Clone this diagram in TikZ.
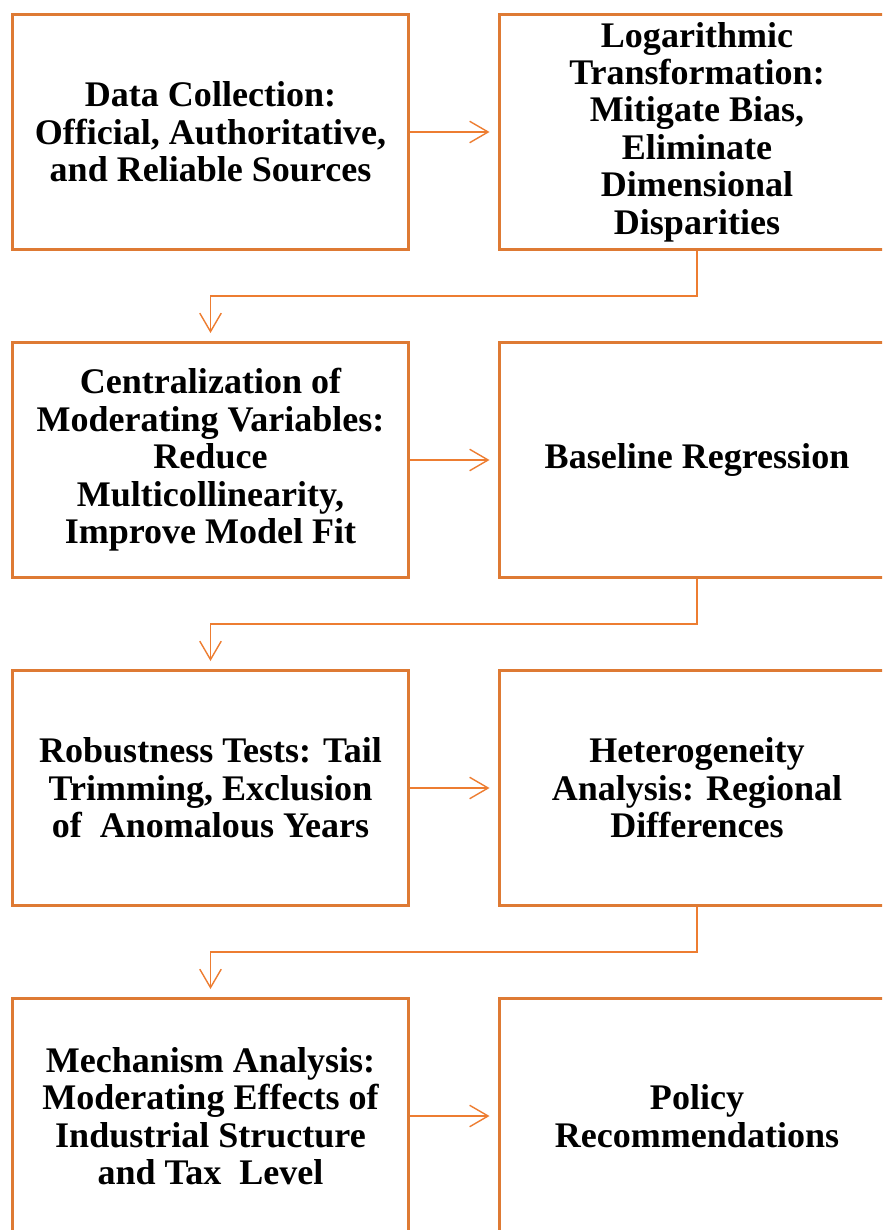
\documentclass[tikz,border=0pt]{standalone}
\usepackage{fontspec}
\setmainfont{Liberation Serif}
\usetikzlibrary{arrows.meta}
\definecolor{boxorange}{RGB}{222,122,52}
\definecolor{lineorange}{RGB}{237,125,49}

\begin{document}
\begin{tikzpicture}[
    every node/.style={font=\fontsize{20.5}{21.3}\selectfont\bfseries},
    stage/.style={draw=boxorange, line width=1.7pt, minimum width=79.2mm, minimum height=47mm, align=center, fill=white},
    arr/.style={-{Straight Barb[length=3.7mm, width=4.3mm]}, draw=lineorange, line width=0.8pt, shorten >=1.6mm}
]
\useasboundingbox (0,0) rectangle (17.64,-24.6);
\clip (0,0) rectangle (17.64,-24.6);

% Row 1
\node[stage] (data) at (4.21, -2.64) {Data Collection:\\Official, Authoritative,\\and Reliable Sources};
\node[stage] (logt) at (13.94, -2.64) {Logarithmic\\Transformation:\\Mitigate Bias,\\Eliminate\\Dimensional\\Disparities};

% Row 2
\node[stage] (centr) at (4.21, -9.20) {Centralization of\\Moderating Variables:\\Reduce\\Multicollinearity,\\Improve Model Fit};
\node[stage] (base) at (13.94, -9.20) {Baseline Regression};

% Row 3
\node[stage] (robust) at (4.21, -15.76) {Robustness Tests: Tail\\Trimming, Exclusion\\of\ \ Anomalous Years};
\node[stage] (hetero) at (13.94, -15.76) {Heterogeneity\\Analysis: Regional\\Differences};

% Row 4
\node[stage] (mech) at (4.21, -22.32) {Mechanism Analysis:\\Moderating Effects of\\Industrial Structure\\and Tax\ \ Level};
\node[stage] (policy) at (13.94, -22.32) {Policy\\Recommendations};

% Arrows
\draw[arr] (data) -- (logt);
\draw[arr] (logt.south) -- ++(0,-0.9) -| (centr.north);
\draw[arr] (centr) -- (base);
\draw[arr] (base.south) -- ++(0,-0.9) -| (robust.north);
\draw[arr] (robust) -- (hetero);
\draw[arr] (hetero.south) -- ++(0,-0.9) -| (mech.north);
\draw[arr] (mech) -- (policy);
\end{tikzpicture}
\end{document}
